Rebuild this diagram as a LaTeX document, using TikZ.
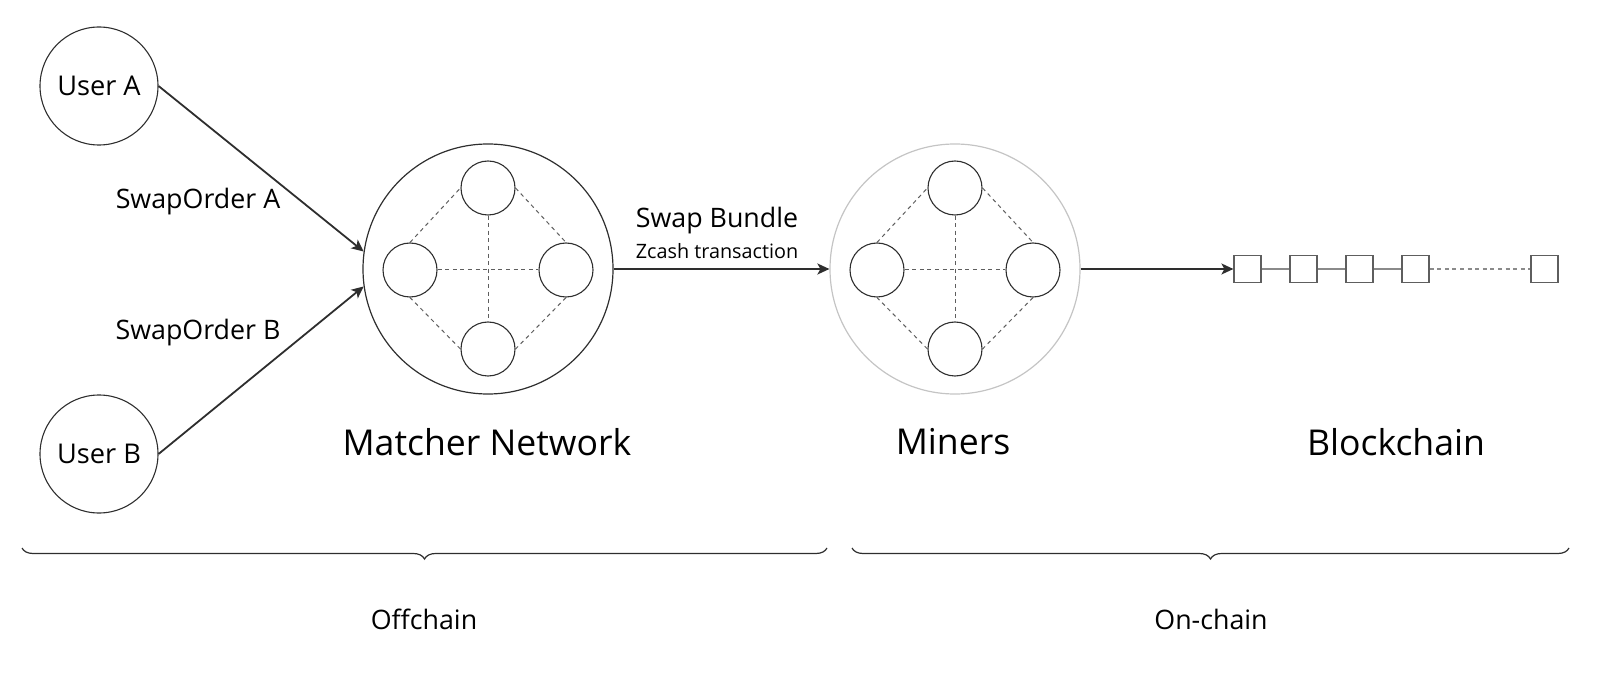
\documentclass[tikz,border=0pt]{standalone}
\usepackage{fontspec}
\setmainfont{Open Sans}
\usepackage{tikz}
\usetikzlibrary{arrows.meta,decorations.pathreplacing}

\definecolor{ink}{HTML}{2E2E2E}
\definecolor{faint}{HTML}{C4C4C4}
\definecolor{dashgray}{HTML}{5E5E5E}
\definecolor{chaingray}{HTML}{8A8A8A}

\tikzset{
	user/.style={circle,draw=ink,line width=0.55pt,minimum size=59pt,inner sep=0pt,font=\fontsize{13.6}{16}\selectfont},
	hub/.style={circle,line width=0.6pt,minimum size=125pt,inner sep=0pt},
	peer/.style={circle,draw=ink,line width=0.55pt,minimum size=27pt,inner sep=0pt},
	link/.style={draw=dashgray,line width=0.5pt,dash pattern=on 2pt off 1.8pt},
	flow/.style={draw=ink,line width=0.9pt,-{Stealth[length=6pt,width=5.5pt,inset=1.5pt]}},
	blk/.style={rectangle,draw=dashgray,line width=0.6pt,minimum size=13.5pt,inner sep=0pt},
	lbl/.style={inner sep=0pt,font=\fontsize{13.4}{16}\selectfont},
	title/.style={inner sep=0pt,font=\fontsize{17.8}{21}\selectfont},
	note/.style={inner sep=0pt,font=\fontsize{9.9}{12}\selectfont},
	span/.style={draw=ink,line width=0.6pt,decorate,decoration={brace,mirror,amplitude=5.5pt}}
}

\begin{document}
\begin{tikzpicture}[x=0.5pt,y=-0.5pt]
	\useasboundingbox (0,0) rectangle (1600,673);

	% users
	\node[user] (ua) at (99,86) {User A};
	\node[user] (ub) at (99,454) {User B};

	% matcher network and miners
	\foreach \nm/\cx/\rim in {mat/488/ink, min/955/faint}{
		\node[hub,draw=\rim] (\nm) at (\cx,269) {};
		\node[peer] (\nm-t) at (\cx,188) {};
		\node[peer] (\nm-l) at (\cx-78,270) {};
		\node[peer] (\nm-r) at (\cx+78,270) {};
		\node[peer] (\nm-b) at (\cx,349) {};
		\draw[link] (\nm-l.north) -- (\nm-t.west);
		\draw[link] (\nm-t.east) -- (\nm-r.north);
		\draw[link] (\nm-r.south) -- (\nm-b.east);
		\draw[link] (\nm-b.west) -- (\nm-l.south);
		\draw[link] (\nm-l) -- (\nm-r);
		\draw[link] (\nm-t) -- (\nm-b);
	}

	% blockchain
	\foreach \i/\bx in {1/1247.5,2/1303.5,3/1359.5,4/1415.5,5/1544.5}
		\node[blk] (b\i) at (\bx,269) {};
	\foreach \i/\j in {1/2,2/3,3/4}
		\draw[chaingray,line width=0.6pt] (b\i) -- (b\j);
	\draw[link,draw=chaingray,line width=0.6pt] (b4) -- (b5);

	% flows
	\draw[flow] (ua.east) -- (mat.172);
	\draw[flow] (ub.east) -- (mat.188);
	\draw[flow] (mat.east) -- (min.west);
	\draw[flow] (min.east) -- (b1.west);

	\node[lbl] (oa) at (198,202) {SwapOrder A};
	\node[lbl] (ob) at (198,333) {SwapOrder B};
	\node[lbl] (bundle) at (717,221) {Swap Bundle};
	\node[note] (zcash) at (717,251) {Zcash transaction};

	% titles
	\node[title] (tmat) at (487,442) {Matcher Network};
	\node[title] (tmin) at (953,442) {Miners};
	\node[title] (tchain) at (1396,442) {Blockchain};

	% braces
	\draw[span] (22,548) -- (827,548);
	\draw[span] (852,548) -- (1569,548);
	\node[lbl] (off) at (424,619) {Offchain};
	\node[lbl] (on) at (1211,619) {On-chain};
\end{tikzpicture}
\end{document}
